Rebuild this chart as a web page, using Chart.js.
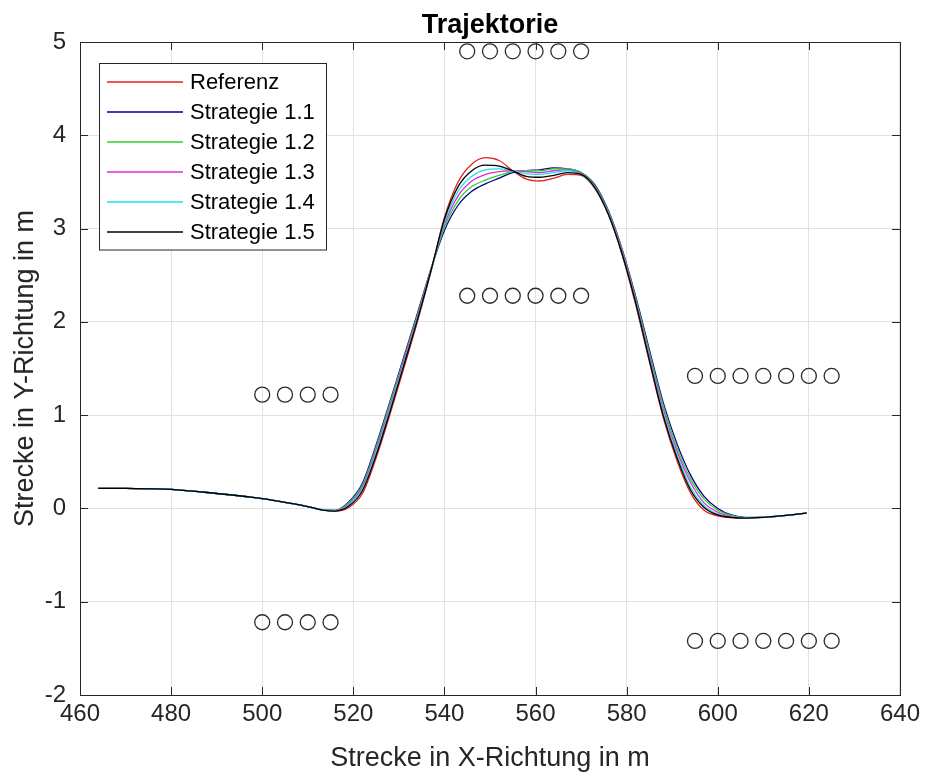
<!DOCTYPE html>
<html>
<head>
<meta charset="utf-8">
<script src="https://cdn.jsdelivr.net/npm/chart.js@4"></script>
<style>
html,body{margin:0;padding:0;background:#ffffff;}
#wrap{width:925px;height:772px;}
</style>
</head>
<body>
<div id="wrap"><canvas id="c" width="925" height="772"></canvas></div>
<script>
const FONT = '"Liberation Sans", Arial, Helvetica, sans-serif';
const chartTitle = 'Trajektorie';
const xAxisLabel = 'Strecke in X-Richtung in m';
const yAxisLabel = 'Strecke in Y-Richtung in m';
const xTicks = [460, 480, 500, 520, 540, 560, 580, 600, 620, 640];
const yTicks = [-2, -1, 0, 1, 2, 3, 4, 5];

const seriesNames = ['Referenz', 'Strategie 1.1', 'Strategie 1.2', 'Strategie 1.3', 'Strategie 1.4', 'Strategie 1.5'];
const seriesColors = ['#e3221f', '#000088', '#2fd12f', '#e12be1', '#19e3e3', '#000000'];

const xs = [464, 470, 480, 490, 500, 505, 510, 513, 516, 519, 522, 525, 528, 531, 534, 537, 540, 543, 546, 549, 552, 555, 558, 561, 564, 567, 570, 573, 576, 579, 582, 585, 588, 591, 594, 597, 600, 603, 606, 610, 615, 619.5];

const yRef = [0.215, 0.214, 0.205, 0.16, 0.105, 0.065, 0.02, -0.015, -0.03, 0.01, 0.16, 0.54, 1.00, 1.49, 1.99, 2.53, 3.12, 3.50, 3.69, 3.76, 3.73, 3.62, 3.53, 3.51, 3.54, 3.58, 3.57, 3.43, 3.15, 2.72, 2.18, 1.57, 0.98, 0.52, 0.17, -0.02, -0.08, -0.10, -0.105, -0.095, -0.075, -0.05];
const yS11 = [0.215, 0.214, 0.205, 0.16, 0.105, 0.065, 0.02, -0.012, -0.02, 0.07, 0.27, 0.68, 1.14, 1.61, 2.08, 2.56, 2.98, 3.25, 3.40, 3.48, 3.54, 3.60, 3.62, 3.63, 3.65, 3.64, 3.60, 3.47, 3.19, 2.78, 2.27, 1.70, 1.14, 0.70, 0.36, 0.13, 0.00, -0.07, -0.095, -0.095, -0.075, -0.05];
const yS12 = [0.215, 0.214, 0.205, 0.16, 0.105, 0.065, 0.02, -0.013, -0.022, 0.06, 0.25, 0.66, 1.12, 1.59, 2.06, 2.56, 3.01, 3.30, 3.45, 3.52, 3.57, 3.61, 3.62, 3.62, 3.64, 3.64, 3.60, 3.46, 3.18, 2.77, 2.25, 1.67, 1.11, 0.66, 0.32, 0.10, -0.02, -0.075, -0.098, -0.095, -0.075, -0.05];
const yS13 = [0.215, 0.214, 0.205, 0.16, 0.105, 0.065, 0.02, -0.013, -0.024, 0.05, 0.23, 0.63, 1.09, 1.57, 2.04, 2.55, 3.04, 3.35, 3.51, 3.58, 3.61, 3.62, 3.61, 3.60, 3.62, 3.63, 3.59, 3.45, 3.17, 2.76, 2.23, 1.64, 1.07, 0.62, 0.28, 0.06, -0.04, -0.085, -0.10, -0.095, -0.075, -0.05];
const yS14 = [0.215, 0.214, 0.205, 0.16, 0.105, 0.065, 0.02, -0.014, -0.026, 0.04, 0.21, 0.60, 1.06, 1.54, 2.02, 2.54, 3.07, 3.40, 3.56, 3.63, 3.64, 3.62, 3.59, 3.58, 3.60, 3.62, 3.58, 3.44, 3.16, 2.74, 2.21, 1.61, 1.03, 0.58, 0.23, 0.03, -0.06, -0.09, -0.102, -0.095, -0.075, -0.05];
const yS15 = [0.215, 0.214, 0.205, 0.16, 0.105, 0.065, 0.02, -0.015, -0.028, 0.025, 0.19, 0.57, 1.03, 1.52, 2.01, 2.54, 3.10, 3.45, 3.62, 3.68, 3.67, 3.62, 3.56, 3.55, 3.57, 3.60, 3.58, 3.44, 3.15, 2.73, 2.20, 1.59, 1.00, 0.55, 0.20, 0.01, -0.07, -0.095, -0.104, -0.095, -0.075, -0.05];
const seriesValues = [yRef, yS11, yS12, yS13, yS14, yS15];

// obstacles (cones)
const coneMidX = [545, 550, 555, 560, 565, 570];
const coneMidTopY = 4.9;
const coneMidBotY = 2.28;
const coneLeftX = [500, 505, 510, 515];
const coneLeftTopY = 1.22;
const coneLeftBotY = -1.22;
const coneRightX = [595, 600, 605, 610, 615, 620, 625];
const coneRightTopY = 1.42;
const coneRightBotY = -1.42;

function pts(xArr, yArr) { return xArr.map((x, i) => ({x: x, y: yArr[i]})); }
function row(xArr, y) { return xArr.map(x => ({x: x, y: y})); }

const datasets = [];
const cones = [].concat(
  row(coneMidX, coneMidTopY), row(coneMidX, coneMidBotY),
  row(coneLeftX, coneLeftTopY), row(coneLeftX, coneLeftBotY),
  row(coneRightX, coneRightTopY), row(coneRightX, coneRightBotY));
datasets.push({
  label: 'cones', data: cones, showLine: false, pointStyle: 'circle',
  pointRadius: 7.5, pointBorderWidth: 1.3, pointBorderColor: '#2a2a2a',
  pointBackgroundColor: 'rgba(0,0,0,0)', inLegend: false, order: 0
});
seriesNames.forEach((name, i) => {
  datasets.push({
    label: name, data: pts(xs, seriesValues[i]), showLine: true,
    borderColor: seriesColors[i], backgroundColor: seriesColors[i],
    borderWidth: 1.3, pointRadius: 0, cubicInterpolationMode: 'monotone',
    fill: false, inLegend: true, order: seriesNames.length - i
  });
});

const decor = {
  id: 'decor',
  afterDraw(chart) {
    const ctx = chart.ctx;
    const a = chart.chartArea;
    const xs_ = chart.scales.x, ys_ = chart.scales.y;
    ctx.save();
    // box
    ctx.strokeStyle = '#262626';
    ctx.lineWidth = 1;
    ctx.strokeRect(Math.round(a.left) + 0.5, Math.round(a.top) + 0.5, Math.round(a.right - a.left), Math.round(a.bottom - a.top));
    // inner ticks
    const tl = 8;
    ctx.beginPath();
    xTicks.forEach(v => {
      const px = Math.round(xs_.getPixelForValue(v)) + 0.5;
      ctx.moveTo(px, a.bottom); ctx.lineTo(px, a.bottom - tl);
      ctx.moveTo(px, a.top); ctx.lineTo(px, a.top + tl);
    });
    yTicks.forEach(v => {
      const py = Math.round(ys_.getPixelForValue(v)) + 0.5;
      ctx.moveTo(a.left, py); ctx.lineTo(a.left + tl, py);
      ctx.moveTo(a.right, py); ctx.lineTo(a.right - tl, py);
    });
    ctx.stroke();

    // title
    ctx.fillStyle = '#000000';
    ctx.font = 'bold 27px ' + FONT;
    ctx.textAlign = 'center';
    ctx.textBaseline = 'alphabetic';
    ctx.fillText(chartTitle, (a.left + a.right) / 2, 33);

    // axis labels
    ctx.fillStyle = '#262626';
    ctx.font = '27px ' + FONT;
    ctx.fillText(xAxisLabel, (a.left + a.right) / 2, 766);
    ctx.save();
    ctx.translate(33, (a.top + a.bottom) / 2);
    ctx.rotate(-Math.PI / 2);
    ctx.fillText(yAxisLabel, 0, 0);
    ctx.restore();

    // legend
    const lx = 99.5, ly = 63.5, lw = 227, lh = 186.5;
    ctx.fillStyle = '#ffffff';
    ctx.fillRect(lx, ly, lw, lh);
    ctx.strokeStyle = '#262626';
    ctx.lineWidth = 1;
    ctx.strokeRect(lx, ly, lw, lh);
    ctx.font = '22px ' + FONT;
    ctx.textAlign = 'left';
    ctx.textBaseline = 'middle';
    let k = 0;
    chart.data.datasets.forEach(ds => {
      if (!ds.inLegend) return;
      const yy = 82 + k * 30;
      ctx.strokeStyle = ds.borderColor;
      ctx.lineWidth = 1.3;
      ctx.beginPath();
      ctx.moveTo(107, yy); ctx.lineTo(183, yy);
      ctx.stroke();
      ctx.fillStyle = '#000000';
      ctx.fillText(ds.label, 190, yy + 1);
      k++;
    });
    ctx.restore();
  }
};

new Chart(document.getElementById('c'), {
  type: 'scatter',
  data: { datasets: datasets },
  options: {
    responsive: false,
    animation: false,
    devicePixelRatio: 1,
    layout: { padding: { top: 42, right: 24, bottom: 0, left: 0 } },
    plugins: { legend: { display: false }, title: { display: false }, tooltip: { enabled: false } },
    scales: {
      x: {
        type: 'linear', min: 460, max: 640,
        afterBuildTicks: s => { s.ticks = xTicks.map(v => ({ value: v })); },
        afterFit: s => { s.height = 77; },
        grid: { color: '#e2e2e2', lineWidth: 1, drawTicks: false },
        border: { display: false },
        ticks: { font: { family: FONT, size: 24 }, color: '#262626', padding: 5, maxRotation: 0, autoSkip: false }
      },
      y: {
        type: 'linear', min: -2, max: 5,
        afterBuildTicks: s => { s.ticks = yTicks.map(v => ({ value: v })); },
        afterFit: s => { s.width = 80; },
        grid: { color: '#e2e2e2', lineWidth: 1, drawTicks: false },
        border: { display: false },
        ticks: { font: { family: FONT, size: 24 }, color: '#262626', padding: 14, autoSkip: false }
      }
    }
  },
  plugins: [decor]
});
</script>
</body>
</html>
